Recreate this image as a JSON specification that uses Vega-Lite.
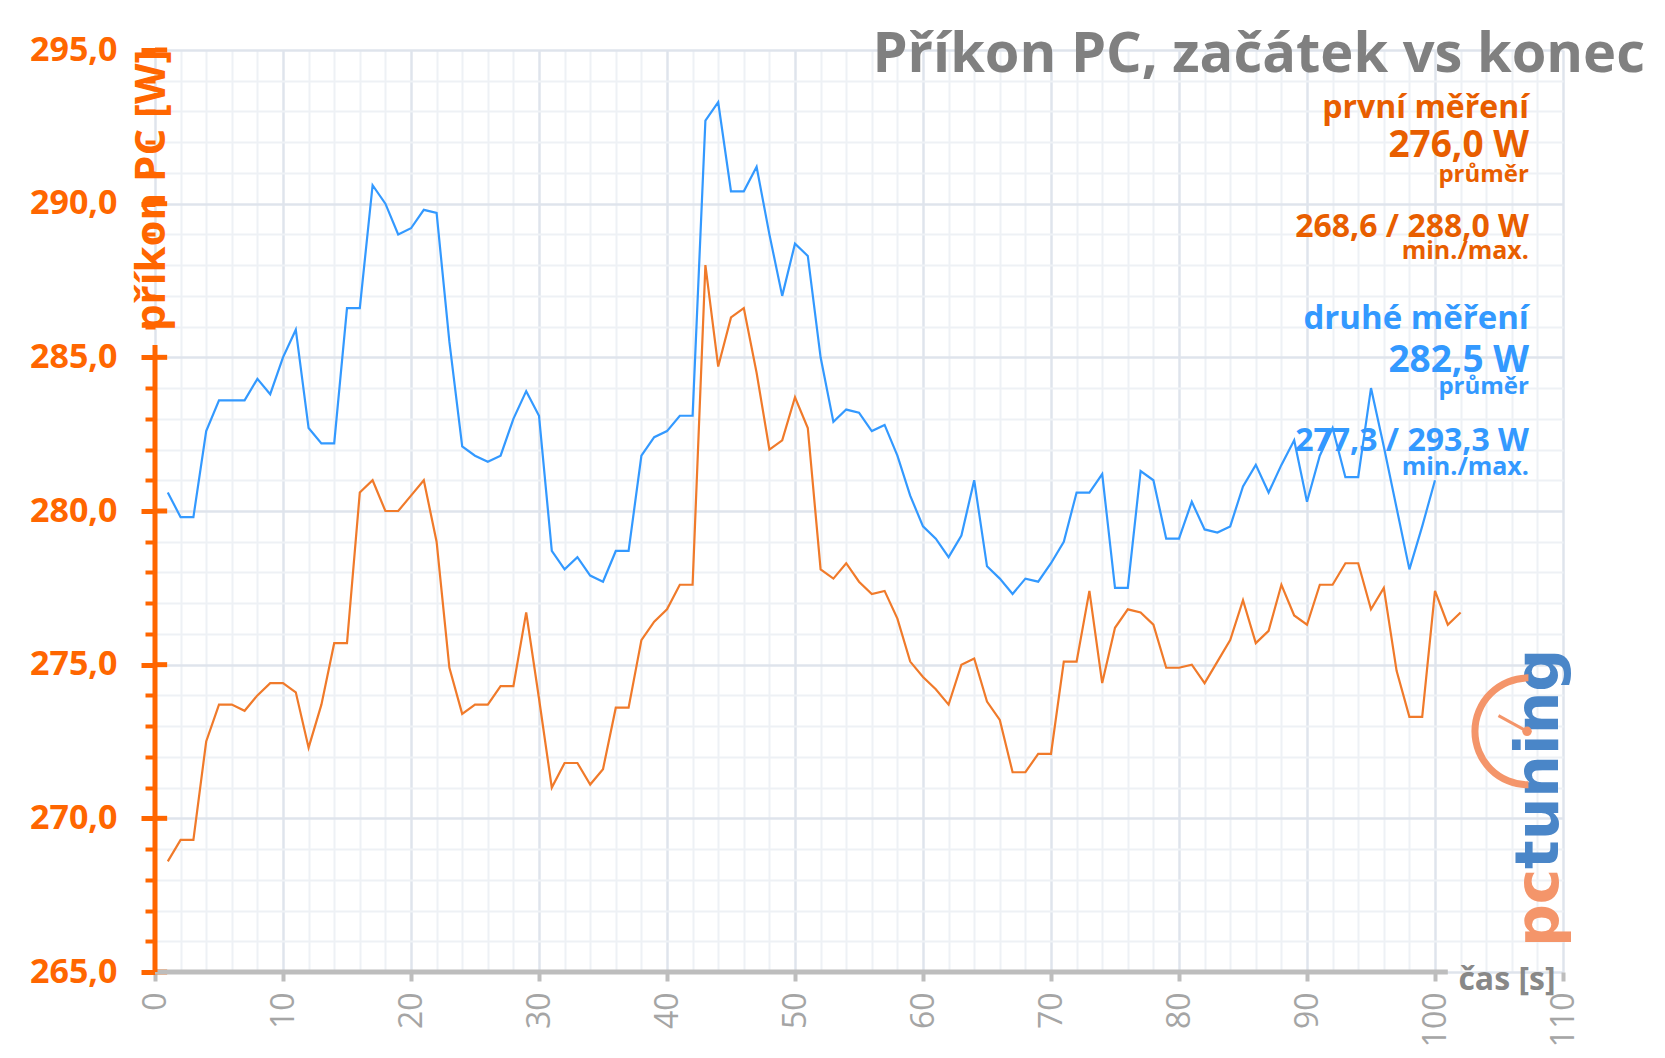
{
"$schema":"https://vega.github.io/schema/vega-lite/v6.json",
"width":1408,"height":922,
"autosize":{"type":"none"},
"padding":{"left":155,"top":50,"right":102,"bottom":86},
"background":"#ffffff",
"config":{"view":{"stroke":null},"font":"Open Sans"},
"title":{"text":"Příkon PC, začátek vs konec","anchor":"end","frame":"group","fontSize":56,"fontWeight":"bold","font":"Open Sans","color":"#808080","baseline":"alphabetic","offset":-95,"dx":82},
"datasets":{
"yMajor":[{"w":265},{"w":270},{"w":275},{"w":280},{"w":285},{"w":290},{"w":295}],
"power":[
{"t":1,"w":268.6,"s":"první"},{"t":2,"w":269.3,"s":"první"},{"t":3,"w":269.3,"s":"první"},{"t":4,"w":272.5,"s":"první"},{"t":5,"w":273.7,"s":"první"},{"t":6,"w":273.7,"s":"první"},{"t":7,"w":273.5,"s":"první"},{"t":8,"w":274.0,"s":"první"},{"t":9,"w":274.4,"s":"první"},{"t":10,"w":274.4,"s":"první"},
{"t":11,"w":274.1,"s":"první"},{"t":12,"w":272.3,"s":"první"},{"t":13,"w":273.7,"s":"první"},{"t":14,"w":275.7,"s":"první"},{"t":15,"w":275.7,"s":"první"},{"t":16,"w":280.6,"s":"první"},{"t":17,"w":281.0,"s":"první"},{"t":18,"w":280.0,"s":"první"},{"t":19,"w":280.0,"s":"první"},{"t":20,"w":280.5,"s":"první"},
{"t":21,"w":281.0,"s":"první"},{"t":22,"w":279.0,"s":"první"},{"t":23,"w":274.9,"s":"první"},{"t":24,"w":273.4,"s":"první"},{"t":25,"w":273.7,"s":"první"},{"t":26,"w":273.7,"s":"první"},{"t":27,"w":274.3,"s":"první"},{"t":28,"w":274.3,"s":"první"},{"t":29,"w":276.7,"s":"první"},{"t":30,"w":273.9,"s":"první"},
{"t":31,"w":271.0,"s":"první"},{"t":32,"w":271.8,"s":"první"},{"t":33,"w":271.8,"s":"první"},{"t":34,"w":271.1,"s":"první"},{"t":35,"w":271.6,"s":"první"},{"t":36,"w":273.6,"s":"první"},{"t":37,"w":273.6,"s":"první"},{"t":38,"w":275.8,"s":"první"},{"t":39,"w":276.4,"s":"první"},{"t":40,"w":276.8,"s":"první"},
{"t":41,"w":277.6,"s":"první"},{"t":42,"w":277.6,"s":"první"},{"t":43,"w":288.0,"s":"první"},{"t":44,"w":284.7,"s":"první"},{"t":45,"w":286.3,"s":"první"},{"t":46,"w":286.6,"s":"první"},{"t":47,"w":284.5,"s":"první"},{"t":48,"w":282.0,"s":"první"},{"t":49,"w":282.3,"s":"první"},{"t":50,"w":283.7,"s":"první"},
{"t":51,"w":282.7,"s":"první"},{"t":52,"w":278.1,"s":"první"},{"t":53,"w":277.8,"s":"první"},{"t":54,"w":278.3,"s":"první"},{"t":55,"w":277.7,"s":"první"},{"t":56,"w":277.3,"s":"první"},{"t":57,"w":277.4,"s":"první"},{"t":58,"w":276.5,"s":"první"},{"t":59,"w":275.1,"s":"první"},{"t":60,"w":274.6,"s":"první"},
{"t":61,"w":274.2,"s":"první"},{"t":62,"w":273.7,"s":"první"},{"t":63,"w":275.0,"s":"první"},{"t":64,"w":275.2,"s":"první"},{"t":65,"w":273.8,"s":"první"},{"t":66,"w":273.2,"s":"první"},{"t":67,"w":271.5,"s":"první"},{"t":68,"w":271.5,"s":"první"},{"t":69,"w":272.1,"s":"první"},{"t":70,"w":272.1,"s":"první"},
{"t":71,"w":275.1,"s":"první"},{"t":72,"w":275.1,"s":"první"},{"t":73,"w":277.4,"s":"první"},{"t":74,"w":274.4,"s":"první"},{"t":75,"w":276.2,"s":"první"},{"t":76,"w":276.8,"s":"první"},{"t":77,"w":276.7,"s":"první"},{"t":78,"w":276.3,"s":"první"},{"t":79,"w":274.9,"s":"první"},{"t":80,"w":274.9,"s":"první"},
{"t":81,"w":275.0,"s":"první"},{"t":82,"w":274.4,"s":"první"},{"t":83,"w":275.1,"s":"první"},{"t":84,"w":275.8,"s":"první"},{"t":85,"w":277.1,"s":"první"},{"t":86,"w":275.7,"s":"první"},{"t":87,"w":276.1,"s":"první"},{"t":88,"w":277.6,"s":"první"},{"t":89,"w":276.6,"s":"první"},{"t":90,"w":276.3,"s":"první"},
{"t":91,"w":277.6,"s":"první"},{"t":92,"w":277.6,"s":"první"},{"t":93,"w":278.3,"s":"první"},{"t":94,"w":278.3,"s":"první"},{"t":95,"w":276.8,"s":"první"},{"t":96,"w":277.5,"s":"první"},{"t":97,"w":274.8,"s":"první"},{"t":98,"w":273.3,"s":"první"},{"t":99,"w":273.3,"s":"první"},{"t":100,"w":277.4,"s":"první"},
{"t":101,"w":276.3,"s":"první"},{"t":102,"w":276.7,"s":"první"},
{"t":1,"w":280.6,"s":"druhé"},{"t":2,"w":279.8,"s":"druhé"},{"t":3,"w":279.8,"s":"druhé"},{"t":4,"w":282.6,"s":"druhé"},{"t":5,"w":283.6,"s":"druhé"},{"t":6,"w":283.6,"s":"druhé"},{"t":7,"w":283.6,"s":"druhé"},{"t":8,"w":284.3,"s":"druhé"},{"t":9,"w":283.8,"s":"druhé"},{"t":10,"w":285.0,"s":"druhé"},
{"t":11,"w":285.9,"s":"druhé"},{"t":12,"w":282.7,"s":"druhé"},{"t":13,"w":282.2,"s":"druhé"},{"t":14,"w":282.2,"s":"druhé"},{"t":15,"w":286.6,"s":"druhé"},{"t":16,"w":286.6,"s":"druhé"},{"t":17,"w":290.6,"s":"druhé"},{"t":18,"w":290.0,"s":"druhé"},{"t":19,"w":289.0,"s":"druhé"},{"t":20,"w":289.2,"s":"druhé"},
{"t":21,"w":289.8,"s":"druhé"},{"t":22,"w":289.7,"s":"druhé"},{"t":23,"w":285.5,"s":"druhé"},{"t":24,"w":282.1,"s":"druhé"},{"t":25,"w":281.8,"s":"druhé"},{"t":26,"w":281.6,"s":"druhé"},{"t":27,"w":281.8,"s":"druhé"},{"t":28,"w":283.0,"s":"druhé"},{"t":29,"w":283.9,"s":"druhé"},{"t":30,"w":283.1,"s":"druhé"},
{"t":31,"w":278.7,"s":"druhé"},{"t":32,"w":278.1,"s":"druhé"},{"t":33,"w":278.5,"s":"druhé"},{"t":34,"w":277.9,"s":"druhé"},{"t":35,"w":277.7,"s":"druhé"},{"t":36,"w":278.7,"s":"druhé"},{"t":37,"w":278.7,"s":"druhé"},{"t":38,"w":281.8,"s":"druhé"},{"t":39,"w":282.4,"s":"druhé"},{"t":40,"w":282.6,"s":"druhé"},
{"t":41,"w":283.1,"s":"druhé"},{"t":42,"w":283.1,"s":"druhé"},{"t":43,"w":292.7,"s":"druhé"},{"t":44,"w":293.3,"s":"druhé"},{"t":45,"w":290.4,"s":"druhé"},{"t":46,"w":290.4,"s":"druhé"},{"t":47,"w":291.2,"s":"druhé"},{"t":48,"w":289.0,"s":"druhé"},{"t":49,"w":287.0,"s":"druhé"},{"t":50,"w":288.7,"s":"druhé"},
{"t":51,"w":288.3,"s":"druhé"},{"t":52,"w":285.0,"s":"druhé"},{"t":53,"w":282.9,"s":"druhé"},{"t":54,"w":283.3,"s":"druhé"},{"t":55,"w":283.2,"s":"druhé"},{"t":56,"w":282.6,"s":"druhé"},{"t":57,"w":282.8,"s":"druhé"},{"t":58,"w":281.8,"s":"druhé"},{"t":59,"w":280.5,"s":"druhé"},{"t":60,"w":279.5,"s":"druhé"},
{"t":61,"w":279.1,"s":"druhé"},{"t":62,"w":278.5,"s":"druhé"},{"t":63,"w":279.2,"s":"druhé"},{"t":64,"w":281.0,"s":"druhé"},{"t":65,"w":278.2,"s":"druhé"},{"t":66,"w":277.8,"s":"druhé"},{"t":67,"w":277.3,"s":"druhé"},{"t":68,"w":277.8,"s":"druhé"},{"t":69,"w":277.7,"s":"druhé"},{"t":70,"w":278.3,"s":"druhé"},
{"t":71,"w":279.0,"s":"druhé"},{"t":72,"w":280.6,"s":"druhé"},{"t":73,"w":280.6,"s":"druhé"},{"t":74,"w":281.2,"s":"druhé"},{"t":75,"w":277.5,"s":"druhé"},{"t":76,"w":277.5,"s":"druhé"},{"t":77,"w":281.3,"s":"druhé"},{"t":78,"w":281.0,"s":"druhé"},{"t":79,"w":279.1,"s":"druhé"},{"t":80,"w":279.1,"s":"druhé"},
{"t":81,"w":280.3,"s":"druhé"},{"t":82,"w":279.4,"s":"druhé"},{"t":83,"w":279.3,"s":"druhé"},{"t":84,"w":279.5,"s":"druhé"},{"t":85,"w":280.8,"s":"druhé"},{"t":86,"w":281.5,"s":"druhé"},{"t":87,"w":280.6,"s":"druhé"},{"t":88,"w":281.5,"s":"druhé"},{"t":89,"w":282.3,"s":"druhé"},{"t":90,"w":280.3,"s":"druhé"},
{"t":91,"w":281.8,"s":"druhé"},{"t":92,"w":282.7,"s":"druhé"},{"t":93,"w":281.1,"s":"druhé"},{"t":94,"w":281.1,"s":"druhé"},{"t":95,"w":284.0,"s":"druhé"},{"t":96,"w":282.1,"s":"druhé"},{"t":97,"w":280.1,"s":"druhé"},{"t":98,"w":278.1,"s":"druhé"},{"t":99,"w":279.5,"s":"druhé"},{"t":100,"w":281.0,"s":"druhé"}
]},
"resolve":{"axis":{"x":"independent","y":"independent"}},
"layer":[
{"data":{"name":"yMajor"},
 "mark":{"type":"rule","color":"#ff6600","strokeWidth":5},
 "encoding":{
  "y":{"field":"w","type":"quantitative","scale":{"domain":[265,295],"nice":false,"zero":false},
   "axis":{"orient":"left","values":[266,267,268,269,271,272,273,274,276,277,278,279,281,282,283,284,286,287,288,289,291,292,293,294],"grid":true,"gridColor":"#eef1f5","gridWidth":2,"domain":false,"labels":false,"ticks":true,"tickColor":"#ff6600","tickSize":10,"tickWidth":4,"title":null}},
  "x":{"datum":0,"type":"quantitative","scale":{"domain":[0,110],"nice":false,"zero":false},
   "axis":{"orient":"bottom","values":[2,4,6,8,12,14,16,18,22,24,26,28,32,34,36,38,42,44,46,48,52,54,56,58,62,64,66,68,72,74,76,78,82,84,86,88,92,94,96,98,102,104,106,108],"grid":true,"gridColor":"#eef1f5","gridWidth":2,"domain":false,"labels":false,"ticks":false,"title":null}},
  "x2":{"datum":0.95}}},
{"data":{"name":"power"},
 "mark":{"type":"line","strokeWidth":2.2},
 "encoding":{
  "x":{"field":"t","type":"quantitative","scale":{"domain":[0,110],"nice":false,"zero":false},
   "axis":{"orient":"bottom","values":[0,10,20,30,40,50,60,70,80,90,100,110],"grid":true,"gridColor":"#dfe4ec","gridWidth":2.5,"domain":false,"ticks":true,"tickColor":"#bdbdbd","tickSize":9,"tickWidth":4,"labelAngle":270,"labelFontSize":32,"labelColor":"#a5a5a5","labelPadding":11,"labelFlush":false,"labelOverlap":false,"title":"čas [s]","titleFontSize":32,"titleFontWeight":"bold","titleColor":"#888888","titleAlign":"right","titleBaseline":"alphabetic","titleAnchor":"end","titleX":1400,"titleY":17}},
  "y":{"field":"w","type":"quantitative","scale":{"domain":[265,295],"nice":false,"zero":false},
   "axis":{"orient":"left","values":[265,270,275,280,285,290,295],"grid":true,"gridColor":"#dfe4ec","gridWidth":2.5,"domain":false,"ticks":true,"tickColor":"#ff6600","tickSize":14,"tickWidth":5,"labelFontSize":34,"labelFontWeight":"bold","labelColor":"#ff6600","labelPadding":24,"labelExpr":"replace(format(datum.value,'.1f'),'.',',')","title":"příkon PC [W]","titleColor":"#ff6600","titleFontSize":42,"titleFontWeight":"bold","titleAngle":270,"titleAlign":"right","titleBaseline":"alphabetic","titleX":9,"titleY":-1}},
  "color":{"field":"s","type":"nominal","scale":{"domain":["první","druhé"],"range":["#f07a2a","#3399ff"]},"legend":null}}},
{"data":{"values":[{}]},
 "mark":{"type":"rule","color":"#bdbdbd","strokeWidth":5},
 "encoding":{"x":{"datum":0,"axis":null},"x2":{"datum":101},"y":{"datum":265,"axis":null}}},
{"data":{"values":[{}]},
 "mark":{"type":"rule","color":"#ff6600","strokeWidth":5},
 "encoding":{"x":{"datum":0,"axis":null},"y":{"datum":265,"axis":null},"y2":{"datum":285.4}}},
{"data":{"values":[{}]},"mark":{"type":"text","align":"right","baseline":"alphabetic","fontSize":32,"fontWeight":"bold","color":"#e85e00"},
 "encoding":{"x":{"datum":107.34,"axis":null},"y":{"datum":292.8,"axis":null},"text":{"value":"první měření"}}},
{"data":{"values":[{}]},"mark":{"type":"text","align":"right","baseline":"alphabetic","fontSize":37,"fontWeight":"bold","color":"#e85e00"},
 "encoding":{"x":{"datum":107.34,"axis":null},"y":{"datum":291.52,"axis":null},"text":{"value":"276,0 W"}}},
{"data":{"values":[{}]},"mark":{"type":"text","align":"right","baseline":"alphabetic","fontSize":24,"fontWeight":"bold","color":"#e85e00"},
 "encoding":{"x":{"datum":107.34,"axis":null},"y":{"datum":290.71,"axis":null},"text":{"value":"průměr"}}},
{"data":{"values":[{}]},"mark":{"type":"text","align":"right","baseline":"alphabetic","fontSize":32,"fontWeight":"bold","color":"#e85e00"},
 "encoding":{"x":{"datum":107.34,"axis":null},"y":{"datum":288.91,"axis":null},"text":{"value":"268,6 / 288,0 W"}}},
{"data":{"values":[{}]},"mark":{"type":"text","align":"right","baseline":"alphabetic","fontSize":25,"fontWeight":"bold","color":"#e85e00"},
 "encoding":{"x":{"datum":107.34,"axis":null},"y":{"datum":288.21,"axis":null},"text":{"value":"min./max."}}},
{"data":{"values":[{}]},"mark":{"type":"text","align":"right","baseline":"alphabetic","fontSize":33,"fontWeight":"bold","color":"#3399ff"},
 "encoding":{"x":{"datum":107.34,"axis":null},"y":{"datum":285.91,"axis":null},"text":{"value":"druhé měření"}}},
{"data":{"values":[{}]},"mark":{"type":"text","align":"right","baseline":"alphabetic","fontSize":37,"fontWeight":"bold","color":"#3399ff"},
 "encoding":{"x":{"datum":107.34,"axis":null},"y":{"datum":284.52,"axis":null},"text":{"value":"282,5 W"}}},
{"data":{"values":[{}]},"mark":{"type":"text","align":"right","baseline":"alphabetic","fontSize":24,"fontWeight":"bold","color":"#3399ff"},
 "encoding":{"x":{"datum":107.34,"axis":null},"y":{"datum":283.82,"axis":null},"text":{"value":"průměr"}}},
{"data":{"values":[{}]},"mark":{"type":"text","align":"right","baseline":"alphabetic","fontSize":32,"fontWeight":"bold","color":"#3399ff"},
 "encoding":{"x":{"datum":107.34,"axis":null},"y":{"datum":281.94,"axis":null},"text":{"value":"277,3 / 293,3 W"}}},
{"data":{"values":[{}]},"mark":{"type":"text","align":"right","baseline":"alphabetic","fontSize":25,"fontWeight":"bold","color":"#3399ff"},
 "encoding":{"x":{"datum":107.34,"axis":null},"y":{"datum":281.16,"axis":null},"text":{"value":"min./max."}}},
{"data":{"values":[{}]},"mark":{"type":"text","angle":270,"align":"left","baseline":"alphabetic","font":"DejaVu Sans","fontWeight":"bold","fontSize":60,"color":"#f4956a"},
 "encoding":{"x":{"datum":109.6,"axis":null},"y":{"datum":265.81,"axis":null},"text":{"value":"pc"}}},
{"data":{"values":[{}]},"mark":{"type":"text","angle":270,"align":"left","baseline":"alphabetic","font":"DejaVu Sans","fontWeight":"bold","fontSize":60,"color":"#4a86c8"},
 "encoding":{"x":{"datum":109.6,"axis":null},"y":{"datum":268.35,"axis":null},"text":{"value":"tuning"}}},
{"data":{"values":[{}]},"mark":{"type":"arc","radius":57,"radius2":50,"theta":3.1416,"theta2":6.2832,"color":"#f4956a"},
 "encoding":{"x":{"datum":107.3,"axis":null},"y":{"datum":272.83,"axis":null}}},
{"data":{"values":[{}]},"mark":{"type":"rule","color":"#f4956a","strokeWidth":3},
 "encoding":{"x":{"datum":107.19,"axis":null},"y":{"datum":272.83,"axis":null},"x2":{"datum":104.96},"y2":{"datum":273.34}}},
{"data":{"values":[{}]},"mark":{"type":"point","filled":true,"size":90,"opacity":1,"color":"#f4956a"},
 "encoding":{"x":{"datum":107.19,"axis":null},"y":{"datum":272.83,"axis":null}}}
]
}
